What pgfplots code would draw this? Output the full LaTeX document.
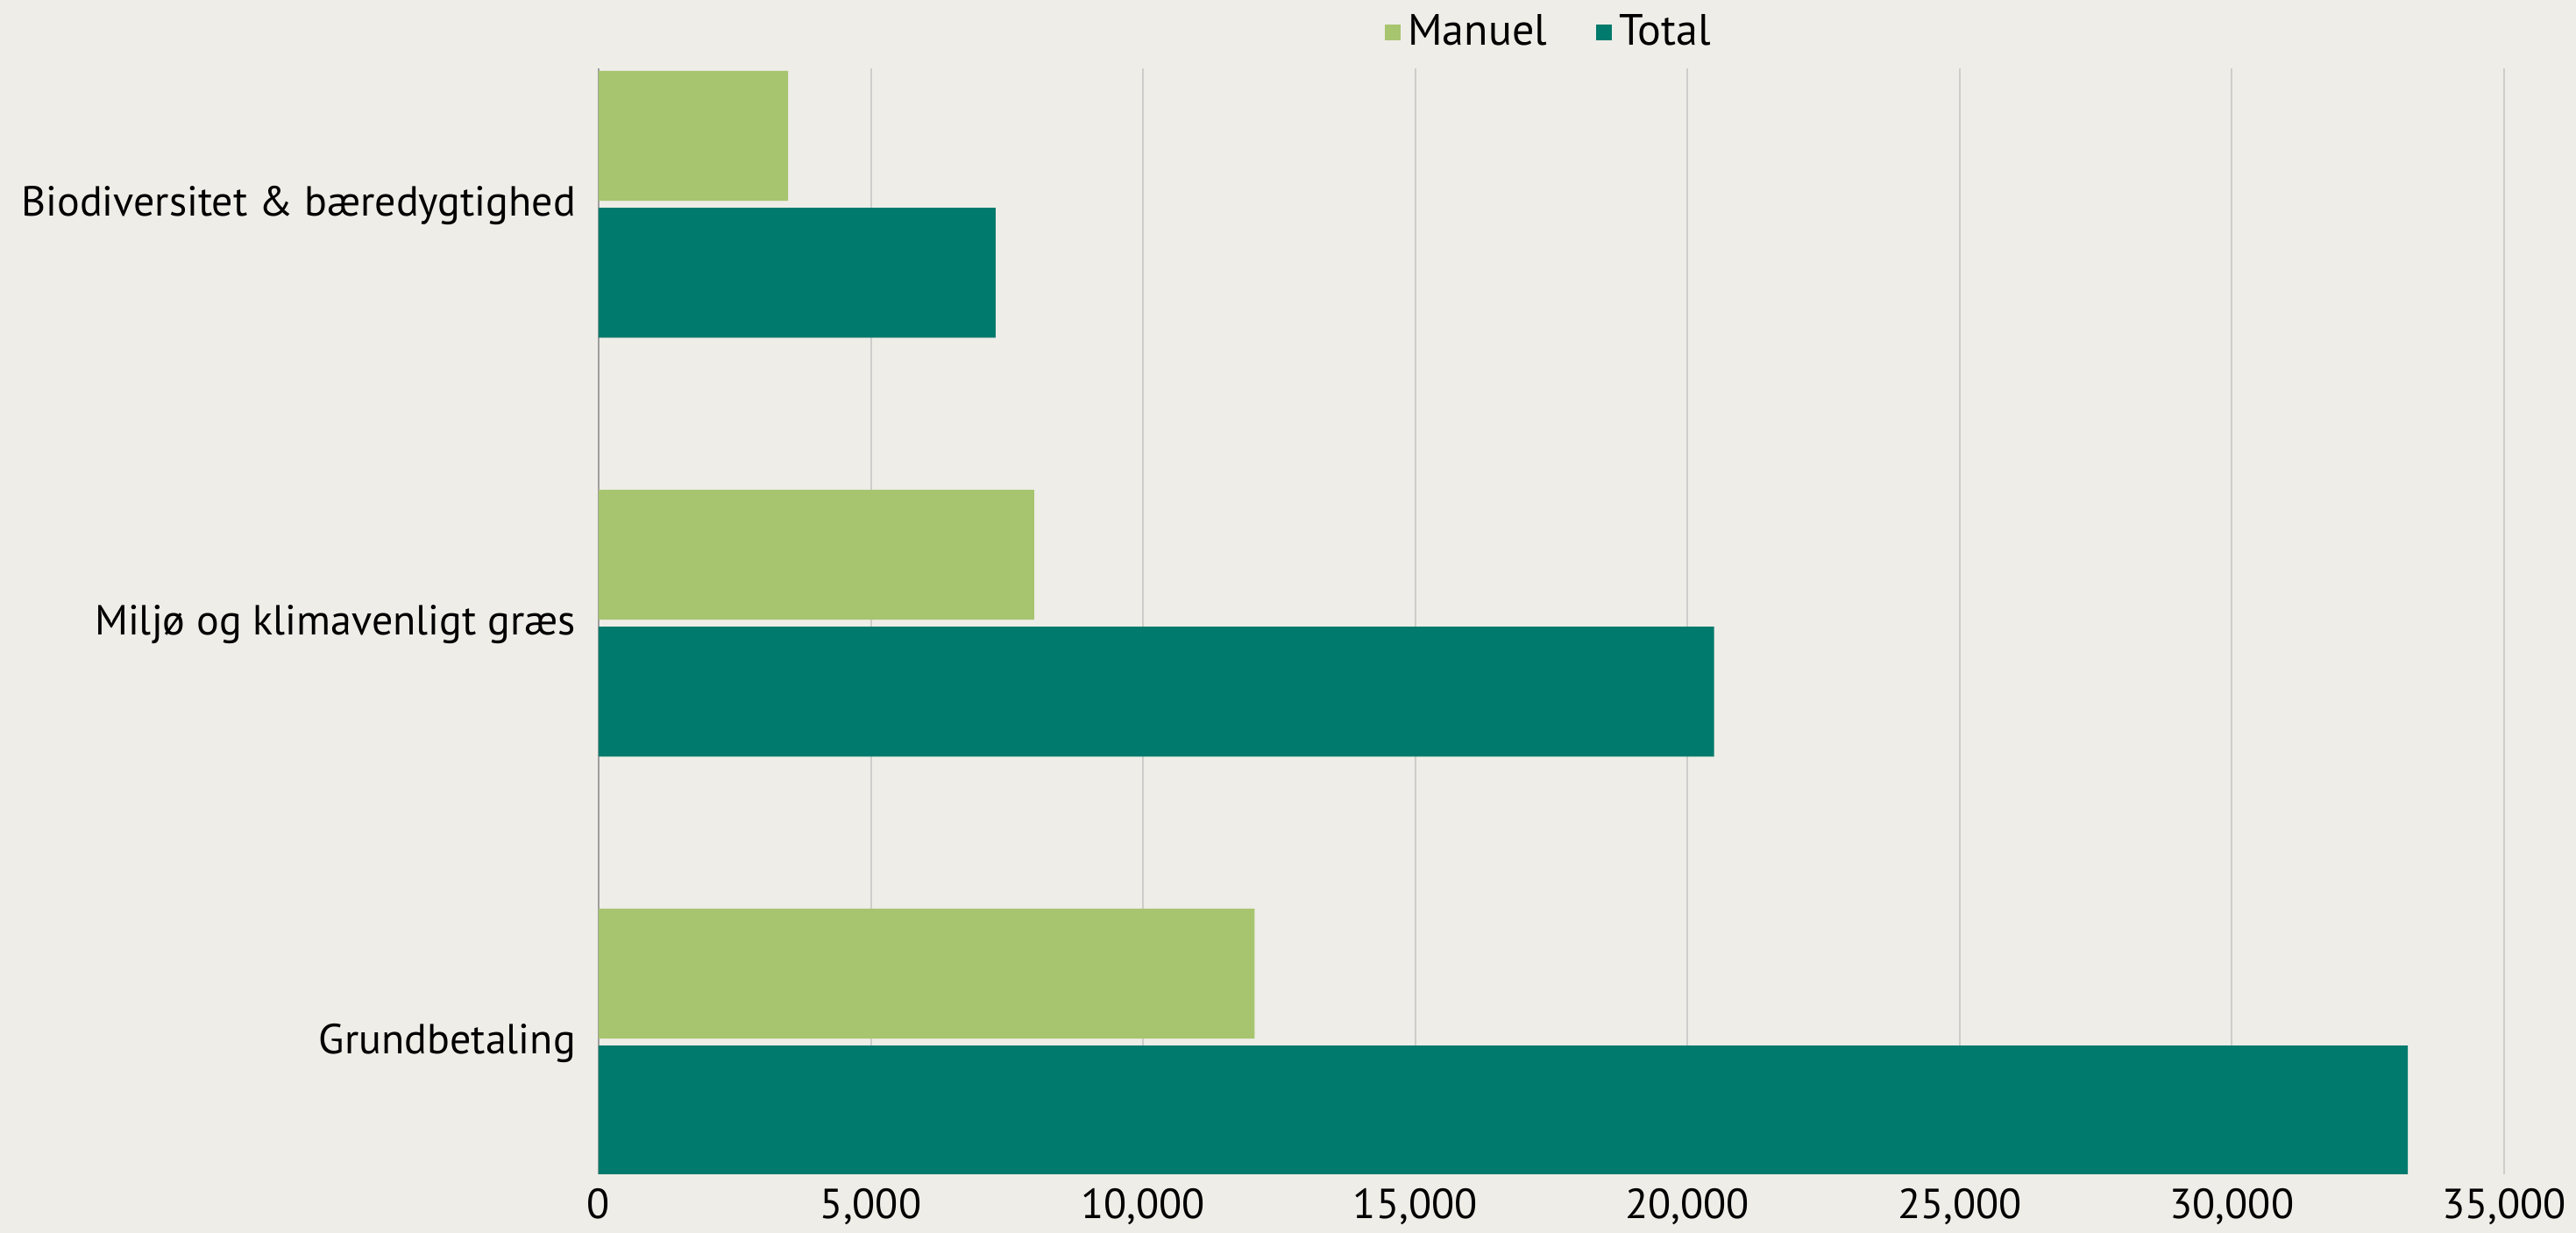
\documentclass[border=0pt]{standalone}
\usepackage{fontspec}
\setmainfont{PT Sans}
\usepackage{pgfplots}
\pgfplotsset{compat=1.18}
\usetikzlibrary{backgrounds}
\definecolor{manuel}{RGB}{167,196,111}
\definecolor{total}{RGB}{0,122,108}
\definecolor{bg}{RGB}{238,237,231}
\definecolor{gridc}{RGB}{205,205,203}
\begin{document}
\begin{tikzpicture}
\begin{axis}[
  scale only axis,
  width=543.5pt, height=315.5pt,
  xmin=0, xmax=35000,
  ymin=-0.312, ymax=2.328,
  scaled x ticks=false,
  xtick={5000,10000,15000,20000,25000,30000,35000},
  extra x ticks={0},
  extra x tick labels={0},
  extra x tick style={grid style={color=gray!75, line width=0.7pt}},
  ytick={0,1,2},
  yticklabels={Grundbetaling, Miljø og klimavenligt græs, Biodiversitet \& bæredygtighed},
  xmajorgrids,
  grid style={color=gridc, line width=0.5pt},
  major tick length=0pt,
  axis line style={draw=none},
  /pgf/number format/assume math mode=true,
  /pgf/number format/.cd, 1000 sep={,}, /pgfplots/.cd,
  tick label style={font=\fontsize{12}{14}\selectfont, black},
  xticklabel style={yshift=-0.5pt},
  yticklabel style={xshift=-3pt},
  legend style={draw=none, fill=none, at={(0.5,1.0325)}, anchor=center,
    font=\fontsize{12.5}{15}\selectfont,
    /tikz/every even column/.append style={column sep=12pt},
    nodes={inner sep=2pt}},
  legend columns=2,
]
\addplot[xbar, bar width=0.31, bar shift=0.167, fill=manuel, draw=none,
  legend image code/.code={\fill[manuel] (0pt,-2.3pt) rectangle (4.6pt,2.3pt);}]
  coordinates {(12050,0) (8000,1) (3480,2)};
\addlegendentry{Manuel}
\addplot[xbar, bar width=0.31, bar shift=-0.16, fill=total, draw=none,
  legend image code/.code={\fill[total] (0pt,-2.3pt) rectangle (4.6pt,2.3pt);}]
  coordinates {(33230,0) (20490,1) (7290,2)};
\addlegendentry{Total}
\end{axis}
\pgfresetboundingbox
\path[use as bounding box] ([shift={(-170.75pt,-16.75pt)}]current axis.south west) rectangle ([shift={(20.5pt,19.5pt)}]current axis.north east);
\begin{scope}[on background layer]
\fill[bg] ([shift={(-170.75pt,-16.75pt)}]current axis.south west) rectangle ([shift={(20.5pt,19.5pt)}]current axis.north east);
\end{scope}
\end{tikzpicture}
\end{document}
